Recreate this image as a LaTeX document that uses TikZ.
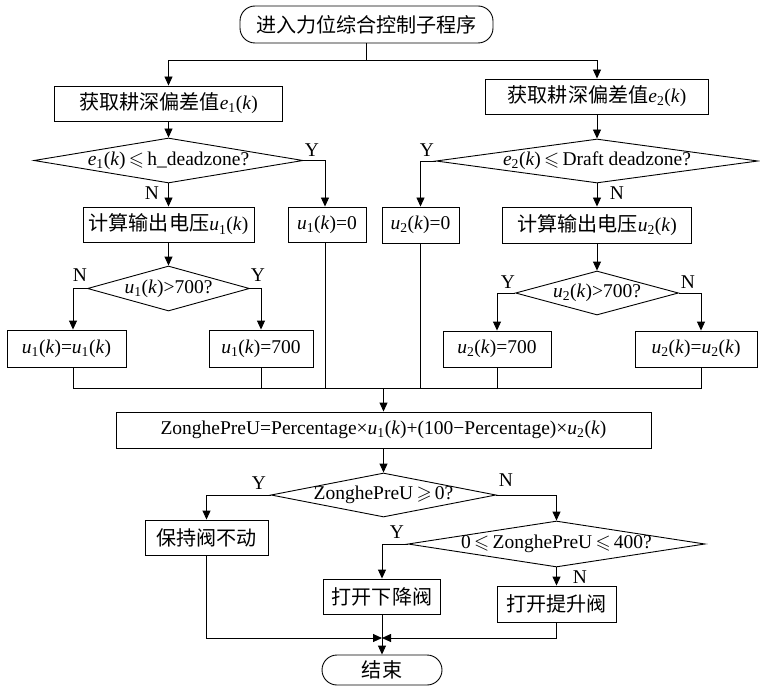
\documentclass[tikz,border=0pt]{standalone}
\usepackage{fontspec}
\usepackage{amssymb}
\setmainfont{Liberation Serif}
\newfontfamily\cjk[Scale=1.03]{Noto Sans CJK SC}
\usetikzlibrary{shapes.geometric,arrows.meta}
\newcommand{\vk}[2]{\textit{#1}\textsubscript{#2}(\textit{k})}
\newcommand{\myle}{\,\(\leqslant\)\,}
\newcommand{\myge}{\,\(\geqslant\)\,}
\begin{document}
\begin{tikzpicture}[x=1pt,y=-1pt,
  every node/.style={font=\fontsize{19.5}{21}\selectfont},
  line/.style={draw,line width=0.9pt},
  arr/.style={line,-{Triangle[length=9pt,width=8pt]}},
  box/.style={draw,line width=0.9pt,rectangle,inner sep=0pt},
  term/.style={draw,line width=0.9pt,rectangle,rounded corners=15pt,inner sep=0pt},
  dec/.style={draw,line width=0.9pt,diamond,inner sep=0pt},
  yn/.style={inner sep=0pt}]
\useasboundingbox (0,0) rectangle (760,687);
% nodes
\node[term,minimum width=253pt,minimum height=37pt] (start) at (366.5,24.5) {\cjk 进入力位综合控制子程序};
\node[box,minimum width=228pt,minimum height=35pt] (e1) at (168.5,103.5) {{\cjk 获取耕深偏差值}\vk{e}{1}};
\node[box,minimum width=223pt,minimum height=35pt] (e2) at (597,96.5) {{\cjk 获取耕深偏差值}\vk{e}{2}};
\node[dec,minimum width=269pt,minimum height=45pt,label=center:{\vk{e}{1}\myle h\_deadzone?}] (d1) at (168.5,160.5) {};
\node[dec,minimum width=322pt,minimum height=44pt,label=center:{\vk{e}{2}\myle Draft deadzone?}] (d2) at (597,161) {};
\node[box,minimum width=171pt,minimum height=35pt] (c1) at (168.5,224.5) {{\cjk 计算输出电压}\vk{u}{1}};
\node[box,minimum width=189pt,minimum height=36pt] (c2) at (597,225) {{\cjk 计算输出电压}\vk{u}{2}};
\node[box,minimum width=78pt,minimum height=35pt] (u10) at (327,224.5) {\vk{u}{1}=0};
\node[box,minimum width=77pt,minimum height=36pt] (u20) at (420.5,225) {\vk{u}{2}=0};
\node[dec,minimum width=162pt,minimum height=45pt,label=center:{\vk{u}{1}>700?}] (d3) at (168.5,288.5) {};
\node[dec,minimum width=163pt,minimum height=44pt,label=center:{\vk{u}{2}>700?}] (d4) at (597,293) {};
\node[box,minimum width=119pt,minimum height=37pt] (u1u1) at (66.5,348.5) {\vk{u}{1}=\vk{u}{1}};
\node[box,minimum width=104pt,minimum height=37pt] (u1s) at (261,348.5) {\vk{u}{1}=700};
\node[box,minimum width=108pt,minimum height=36pt] (u2s) at (497,349) {\vk{u}{2}=700};
\node[box,minimum width=122pt,minimum height=36pt] (u2u2) at (696,349) {\vk{u}{2}=\vk{u}{2}};
\node[box,minimum width=535pt,minimum height=36pt] (big) at (383.5,430) {ZonghePreU=Percentage×\vk{u}{1}+(100−Percentage)×\vk{u}{2}};
\node[dec,minimum width=225pt,minimum height=44pt,label=center:{ZonghePreU\myge 0?}] (d5) at (383.5,495) {};
\node[box,minimum width=123pt,minimum height=35pt] (keep) at (206.5,537.5) {\cjk 保持阀不动};
\node[dec,minimum width=297pt,minimum height=46pt,label=center:{0\myle ZonghePreU\myle 400?}] (d6) at (556.5,544) {};
\node[box,minimum width=117pt,minimum height=35pt] (down) at (382,596.5) {\cjk 打开下降阀};
\node[box,minimum width=119pt,minimum height=36pt] (up) at (556.5,604) {\cjk 打开提升阀};
\node[term,minimum width=120pt,minimum height=30pt] (end) at (382,670) {\cjk 结束};
% labels
\node[yn] (ly1) at (312,150) {Y};
\node[yn] (ln1) at (152,193) {N};
\node[yn] (ly2) at (427,150) {Y};
\node[yn] (ln2) at (617,193) {N};
\node[yn] (ln3) at (80,275) {N};
\node[yn] (ly3) at (258,275) {Y};
\node[yn] (ly4) at (508,282) {Y};
\node[yn] (ln4) at (688,282) {N};
\node[yn] (ly5) at (259,483) {Y};
\node[yn] (ln5) at (506,480) {N};
\node[yn] (ly6) at (397,532) {Y};
\node[yn] (ln6) at (580,577) {N};
% helper coordinates
\coordinate (jt) at (366.5,60);
\coordinate (xa) at (73,0);
\coordinate (xb) at (701,0);
\coordinate (xc) at (325,0);
\coordinate (m) at (383.5,388);
\coordinate (m2) at (382,638);
% connectors
\draw[line] (start.south) -- (jt);
\draw[arr] (jt) -| (e1.north);
\draw[arr] (jt) -| (e2.north);
\draw[arr] (e1.south) -- (d1.north);
\draw[arr] (e2.south) -- (d2.north);
\draw[arr] (d1.south) -- (c1.north);
\draw[arr] (d2.south) -- (c2.north);
\draw[arr] (d1.east) -| (u10.north -| xc);
\draw[arr] (d2.west) -| (u20.north);
\draw[arr] (c1.south) -- (d3.north);
\draw[arr] (c2.south) -- (d4.north);
\draw[arr] (d3.west) -| (u1u1.north -| xa);
\draw[arr] (d3.east) -| (u1s.north);
\draw[arr] (d4.west) -| (u2s.north);
\draw[arr] (d4.east) -| (u2u2.north -| xb);
\draw[line] (u1u1.south -| xa) -- (xa |- m) -- (xb |- m) -- (u2u2.south -| xb);
\draw[line] (u1s.south) -- (u1s.south |- m);
\draw[line] (u10.south -| xc) -- (xc |- m);
\draw[line] (u20.south) -- (u20.south |- m);
\draw[line] (u2s.south) -- (u2s.south |- m);
\draw[arr] (m) -- (big.north);
\draw[arr] (big.south) -- (d5.north);
\draw[arr] (d5.west) -| (keep.north);
\draw[arr] (d5.east) -| (d6.north);
\draw[arr] (d6.west) -| (down.north);
\draw[arr] (d6.south) -- (up.north);
\draw[arr] (keep.south) |- (m2);
\draw[arr] (up.south) |- (m2);
\draw[arr] (down.south) -- (end.north);
\end{tikzpicture}
\end{document}
